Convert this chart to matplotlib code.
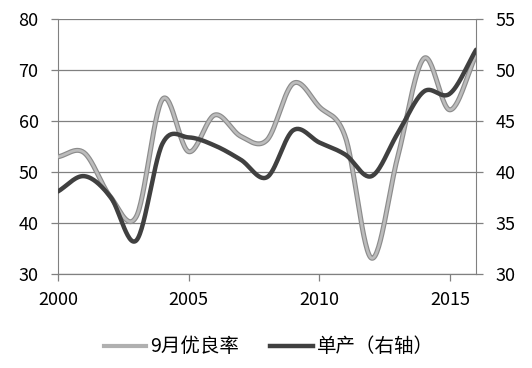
import numpy as np
import matplotlib
matplotlib.use("Agg")
import matplotlib.pyplot as plt
from matplotlib.lines import Line2D

plt.rcParams['font.family'] = ['Noto Sans CJK SC', 'DejaVu Sans']

years = list(range(2000, 2017))
rating = [53.0, 53.8, 45.2, 41.3, 64.3, 54.0, 61.2, 57.0, 56.3, 67.4, 62.8, 56.8, 33.1, 53.0, 72.3, 62.2, 73.0]
yield_ = [38.1, 39.6, 37.6, 33.3, 42.8, 43.4, 42.6, 41.2, 39.5, 44.1, 42.9, 41.7, 39.6, 43.8, 47.9, 47.7, 52.0]
xticks = [2000, 2005, 2010, 2015]
left_ticks = [30, 40, 50, 60, 70, 80]
right_ticks = [30, 35, 40, 45, 50, 55]
label_rating = "9月优良率"
label_yield = "单产（右轴）"


def smooth(x, y, n=30):
    x = np.asarray(x, float)
    y = np.asarray(y, float)
    px = np.concatenate([[2 * x[0] - x[1]], x, [2 * x[-1] - x[-2]]])
    py = np.concatenate([[2 * y[0] - y[1]], y, [2 * y[-1] - y[-2]]])
    xs, ys = [], []
    for i in range(1, len(px) - 2):
        t = np.linspace(0, 1, n, endpoint=False)
        for P, out in ((px, xs), (py, ys)):
            p0, p1, p2, p3 = P[i - 1], P[i], P[i + 1], P[i + 2]
            out.extend(0.5 * ((2 * p1) + (-p0 + p2) * t + (2 * p0 - 5 * p1 + 4 * p2 - p3) * t ** 2
                              + (-p0 + 3 * p1 - 3 * p2 + p3) * t ** 3))
    xs.append(x[-1]); ys.append(y[-1])
    return np.array(xs), np.array(ys)


fig = plt.figure(figsize=(5.32, 3.68), dpi=100)
ax = fig.add_axes([0.109, 0.2554, 0.786, 0.6926])
ax2 = ax.twinx()

gx, gy = smooth(years, rating)
dx, dy = smooth(years, yield_)

ax.plot(gx, gy, color='#8c8c8c', lw=3.6, solid_capstyle='round', zorder=3)
ax.plot(gx, gy, color='#bcbcbc', lw=1.9, solid_capstyle='round', zorder=4)
ax2.plot(dx, dy, color='#404040', lw=3.2, solid_capstyle='round', zorder=5)

ax.set_xlim(2000, 2016)
ax.set_ylim(30, 80)
ax2.set_ylim(30, 55)
ax.set_xticks(xticks)
ax.set_yticks(left_ticks)
ax2.set_yticks(right_ticks)

ax.grid(axis='y', color='#808080', lw=0.9)
ax.set_axisbelow(True)
for a in (ax, ax2):
    a.spines['top'].set_visible(False)
    for s in ('bottom', 'left', 'right'):
        a.spines[s].set_color('#808080')
    a.tick_params(colors='#808080', labelcolor='black', labelsize=13, length=5, width=0.9)
ax.tick_params(axis='x', pad=7)
ax.tick_params(axis='y', pad=9)
ax2.tick_params(axis='y', pad=9)
ax2.spines['left'].set_visible(False)
ax.spines['right'].set_visible(False)

h1 = Line2D([], [], color='#b0b0b0', lw=3.0)
h2 = Line2D([], [], color='#404040', lw=3.2)
fig.legend([h1, h2], [label_rating, label_yield], loc='center',
           bbox_to_anchor=(0.505, 1 - 347 / 368), ncol=2, frameon=False, fontsize=14,
           handlelength=2.2, handletextpad=0.2, columnspacing=1.6,
           borderaxespad=0, borderpad=0)

fig.savefig('out.png', dpi=100)
